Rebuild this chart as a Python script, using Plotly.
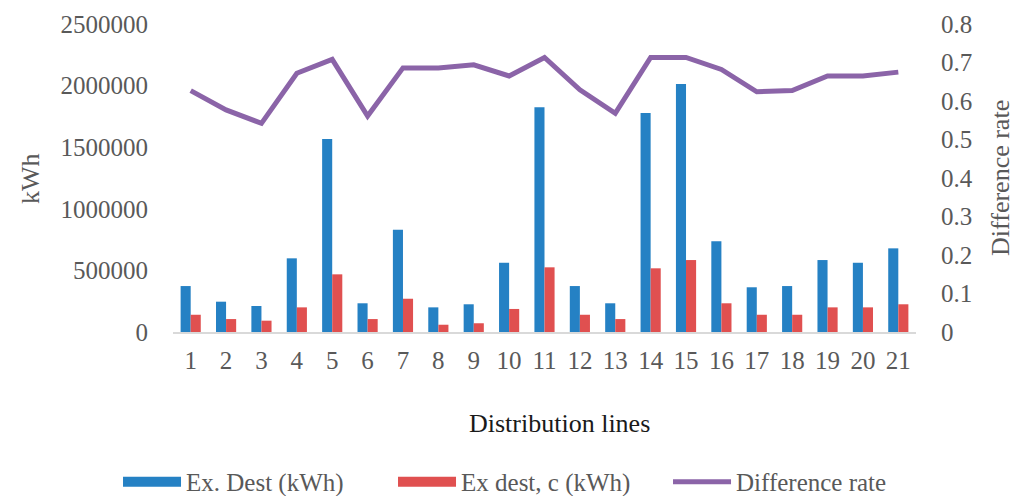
import plotly.graph_objects as go

lines = [str(i) for i in range(1, 22)]
ex_dest = [373000, 246000, 211000, 598000, 1567000, 233000, 830000, 200000, 225000, 562000,
           1824000, 373000, 233000, 1778000, 2013000, 736000, 363000, 373000, 584000, 562000, 679000]
ex_dest_c = [140000, 105000, 92000, 200000, 468000, 105000, 270000, 59000, 71000, 187000,
             525000, 140000, 105000, 517000, 584000, 233000, 140000, 140000, 200000, 200000, 225000]
diff_rate = [0.627, 0.577, 0.542, 0.672, 0.708, 0.561, 0.686, 0.686, 0.694, 0.665,
             0.713, 0.629, 0.568, 0.713, 0.713, 0.682, 0.624, 0.627, 0.665, 0.665, 0.675]

FONT = "Liberation Serif, Times New Roman, serif"
GREY = "#595959"
BLUE = "#2581C4"
RED = "#E05050"
PURPLE = "#8B64A8"

W, H = 1017, 488

fig = go.Figure()
fig.add_trace(go.Bar(x=lines, y=ex_dest, name="Ex. Dest (kWh)", marker_color=BLUE,
                     marker_line_width=0, showlegend=False))
fig.add_trace(go.Bar(x=lines, y=ex_dest_c, name="Ex dest, c (kWh)", marker_color=RED,
                     marker_line_width=0, showlegend=False))
fig.add_trace(go.Scatter(x=lines, y=diff_rate, name="Difference rate", mode="lines",
                         line=dict(color=PURPLE, width=5), yaxis="y2", showlegend=False))
# legend entries (swatches)
fig.add_trace(go.Scatter(x=[None], y=[None], name="Ex. Dest (kWh)", mode="lines",
                         line=dict(color=BLUE, width=13)))
fig.add_trace(go.Scatter(x=[None], y=[None], name="Ex dest, c (kWh)", mode="lines",
                         line=dict(color=RED, width=13)))
fig.add_trace(go.Scatter(x=[None], y=[None], name="Difference rate", mode="lines",
                         line=dict(color=PURPLE, width=5)))

fig.update_layout(
    width=W, height=H,
    margin=dict(l=165, r=109, t=16, b=164, autoexpand=False),
    paper_bgcolor="white", plot_bgcolor="white",
    font=dict(family=FONT, size=25, color=GREY),
    barmode="group", bargap=0.43, bargroupgap=0,
    showlegend=True,
    legend=dict(orientation="h", x=-0.074, xref="paper", xanchor="left",
                y=-0.487, yref="paper", yanchor="middle",
                font=dict(family=FONT, size=25, color=GREY), itemwidth=58,
                entrywidth=202, traceorder="normal"),
    xaxis=dict(showgrid=False, showline=True, linecolor="#D9D9D9", linewidth=2,
               ticks="", ticklabelstandoff=5, tickfont=dict(size=25, color=GREY),
               zeroline=False, automargin=False),
    yaxis=dict(range=[0, 2500000], dtick=500000, tickformat="d", showgrid=False,
               showline=False, zeroline=False, ticks="", ticklabelstandoff=24,
               tickfont=dict(size=25, color=GREY), automargin=False),
    yaxis2=dict(range=[0, 0.8], dtick=0.1, overlaying="y", side="right", showgrid=False,
                showline=False, zeroline=False, ticks="", ticklabelstandoff=24,
                tickformat=".1~f", tickfont=dict(size=25, color=GREY), automargin=False),
    annotations=[
        dict(text="Distribution lines", xref="paper", yref="paper", x=0.52, y=-0.296,
             xanchor="center", yanchor="middle", showarrow=False,
             font=dict(family=FONT, size=26, color="#1a1a1a")),
        dict(text="kWh", xref="paper", yref="paper", x=-0.1925, y=0.5,
             xanchor="center", yanchor="middle", textangle=-90, showarrow=False,
             font=dict(family=FONT, size=26, color=GREY)),
        dict(text="Difference rate", xref="paper", yref="paper", x=1.113, y=0.5,
             xanchor="center", yanchor="middle", textangle=-90, showarrow=False,
             font=dict(family=FONT, size=26, color=GREY)),
    ],
)

fig.write_html("out.html")
